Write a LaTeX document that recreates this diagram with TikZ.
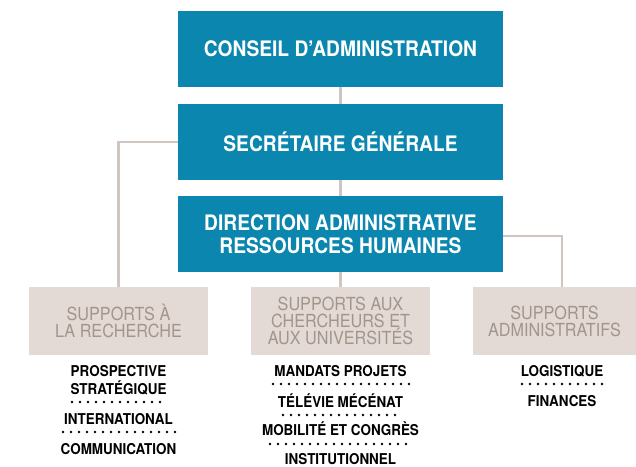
\documentclass[tikz,border=0pt]{standalone}
\usepackage{fontspec}
\setmainfont{TeX Gyre Heros}[FakeStretch=0.9]
\usepackage{tikz}
\usetikzlibrary{positioning}
\definecolor{bleu}{HTML}{0A86AF}
\definecolor{taupe}{HTML}{E3DAD5}
\definecolor{taupetexte}{HTML}{A3958B}
\definecolor{trait}{HTML}{CFC6C1}

\begin{document}
\begin{tikzpicture}[
    x=0.75pt, y=-0.75pt,
    direction/.style={fill=bleu, text=white, inner sep=0pt, align=center,
      minimum width=244pt, minimum height=57pt,
      font=\bfseries\fontsize{16}{17}\selectfont},
    support/.style={fill=taupe, text=taupetexte, inner sep=0pt, align=center,
      minimum height=51pt, font=\fontsize{13.5}{12.8}\selectfont},
    tache/.style={inner sep=0pt, font=\bfseries\fontsize{11.2}{12}\selectfont},
    lien/.style={draw=trait, line width=2pt},
    pointilles/.style={line width=2pt, line cap=round, dash pattern=on 0pt off 6pt},
  ]
  \useasboundingbox (0,0) rectangle (636,467);
  % les trois niveaux de direction
  \node[direction] (conseil) at (340.5,49) {CONSEIL D’ADMINISTRATION};
  \node[direction] (secretaire) at (340.5,142) {SECRÉTAIRE GÉNÉRALE};
  \node[direction] (drh) at (340.5,234) {DIRECTION ADMINISTRATIVE\\RESSOURCES HUMAINES};
  % les supports
  \node[support, minimum width=134pt] (recherche) at (118.5,321) {SUPPORTS À\\LA RECHERCHE};
  \node[support, minimum width=134pt] (chercheurs) at (340.5,321) {SUPPORTS AUX\\CHERCHEURS ET\\AUX UNIVERSITÉS};
  \node[support, minimum width=122pt] (admin) at (554.5,321) {SUPPORTS\\ADMINISTRATIFS};
  \coordinate (coude) at (562,236);
  % liens
  \draw[lien] (conseil.south) -- (secretaire.north);
  \draw[lien] (secretaire.south) -- (drh.north);
  \draw[lien] (drh.south) -- (chercheurs.north);
  \draw[lien] (secretaire.west) -| (recherche.north);
  \draw[lien] (drh.east |- coude) -- (coude) -- (coude |- admin.north);
  % taches
  \node[tache] (prospective) at (118.5,371) {PROSPECTIVE};
  \node[tache] (strategique) at (118.5,388) {STRATÉGIQUE};
  \node[tache] (international) at (118.5,419) {INTERNATIONAL};
  \node[tache] (communication) at (118.5,449) {COMMUNICATION};
  \draw[pointilles] (72,402) -- (167,402);
  \draw[pointilles] (63,432) -- (175,432);
  \node[tache] (mandats) at (340.5,371) {MANDATS PROJETS};
  \node[tache] (televie) at (340.5,401) {TÉLÉVIE MÉCÉNAT};
  \node[tache] (mobilite) at (340.5,429) {MOBILITÉ ET CONGRÈS};
  \node[tache] (institutionnel) at (340.5,459) {INSTITUTIONNEL};
  \draw[pointilles] (273,384) -- (409,384);
  \draw[pointilles] (283,415) -- (398,415);
  \draw[pointilles] (270,444) -- (413,444);
  \node[tache] (logistique) at (562,371) {LOGISTIQUE};
  \node[tache] (finances) at (562,401) {FINANCES};
  \draw[pointilles] (522,384) -- (605,384);
\end{tikzpicture}
\end{document}
